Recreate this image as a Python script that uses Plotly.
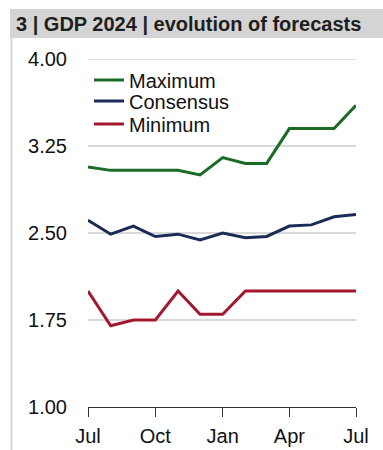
import plotly.graph_objects as go

months = ["2023-07-01", "2023-08-01", "2023-09-01", "2023-10-01", "2023-11-01", "2023-12-01",
          "2024-01-01", "2024-02-01", "2024-03-01", "2024-04-01", "2024-05-01", "2024-06-01", "2024-07-01"]
maximum = [3.07, 3.04, 3.04, 3.04, 3.04, 3.00, 3.15, 3.10, 3.10, 3.40, 3.40, 3.40, 3.60]
consensus = [2.61, 2.49, 2.56, 2.47, 2.49, 2.44, 2.50, 2.46, 2.47, 2.56, 2.57, 2.64, 2.66]
minimum = [2.00, 1.70, 1.75, 1.75, 2.00, 1.80, 1.80, 2.00, 2.00, 2.00, 2.00, 2.00, 2.00]
series_names = ["Maximum", "Consensus", "Minimum"]
colors = ["#1b6b27", "#1c2a58", "#a3182d"]
y_ticks = [1.00, 1.75, 2.50, 3.25, 4.00]
x_ticks = ["2023-07-01", "2023-10-01", "2024-01-01", "2024-04-01", "2024-07-01"]
x_ticktext = ["Jul", "Oct", "Jan", "Apr", "Jul"]
title_text = "3 | GDP 2024 | evolution of forecasts"

FONT = "Liberation Sans, Arial, sans-serif"
FS = 20
W, H = 383, 450
L, R, T, B = 88, 27, 59, 43
pw, ph = W - L - R, H - T - B

def px_x(p):
    return (p - L) / pw

def px_y(p):
    return (H - B - p) / ph

fig = go.Figure()
legend_names = ["legend", "legend2", "legend3"]
for i, (name, vals) in enumerate(zip(series_names, [maximum, consensus, minimum])):
    fig.add_trace(go.Scatter(
        x=months, y=vals, name=name, mode="lines",
        line=dict(color=colors[i], width=3),
        legend=legend_names[i], showlegend=True,
    ))

legend_y = [80, 101, 124]
leg_common = dict(font=dict(family=FONT, size=FS, color="#111111"),
                  bgcolor="rgba(0,0,0,0)", xanchor="left", yanchor="middle",
                  borderwidth=0, visible=True)
fig.update_layout(
    showlegend=True,
    legend=dict(x=px_x(89), y=px_y(legend_y[0]), **leg_common),
    legend2=dict(x=px_x(89), y=px_y(legend_y[1]), **leg_common),
    legend3=dict(x=px_x(89), y=px_y(legend_y[2]), **leg_common),
)

fig.update_layout(
    width=W, height=H,
    margin=dict(l=L, r=R, t=T, b=B, autoexpand=False),
    paper_bgcolor="white", plot_bgcolor="white",
    font=dict(family=FONT, size=FS, color="#111111"),
    title=dict(text="<b>" + title_text + "</b>", x=16 / W, xanchor="left",
               xref="container", yref="container", y=1 - 24 / H, yanchor="middle",
               font=dict(family=FONT, size=FS, color="#1e1e1e")),
    xaxis=dict(range=[months[0], months[-1]], tickvals=x_ticks, ticktext=x_ticktext,
               showgrid=False, showline=True, linecolor="#333333", linewidth=1,
               ticks="outside", ticklen=9, tickcolor="#333333", tickwidth=1,
               ticklabelstandoff=2, automargin=False,
               tickfont=dict(family=FONT, size=FS, color="#111111"), zeroline=False),
    yaxis=dict(range=[1, 4], tickvals=y_ticks, tickformat=".2f",
               showgrid=True, gridcolor="#d9d9d9", gridwidth=1.5,
               showline=False, zeroline=False, ticks="",
               ticklabelstandoff=20, automargin=False,
               tickfont=dict(family=FONT, size=FS, color="#111111")),
    shapes=[
        dict(type="rect", xref="paper", yref="paper",
             x0=px_x(10), x1=px_x(W + 2), y0=px_y(38), y1=px_y(9),
             fillcolor="#d4d4d4", line=dict(width=0), layer="below"),
        dict(type="line", xref="paper", yref="paper",
             x0=px_x(11.5), x1=px_x(11.5), y0=px_y(38), y1=px_y(H + 2),
             line=dict(color="#d6d6d6", width=2), layer="below"),
        dict(type="line", xref="paper", yref="y",
             x0=0, x1=1, y0=y_ticks[-1], y1=y_ticks[-1],
             line=dict(color="#d9d9d9", width=1.5), layer="below"),
    ],
)

fig.write_html("out.html")
